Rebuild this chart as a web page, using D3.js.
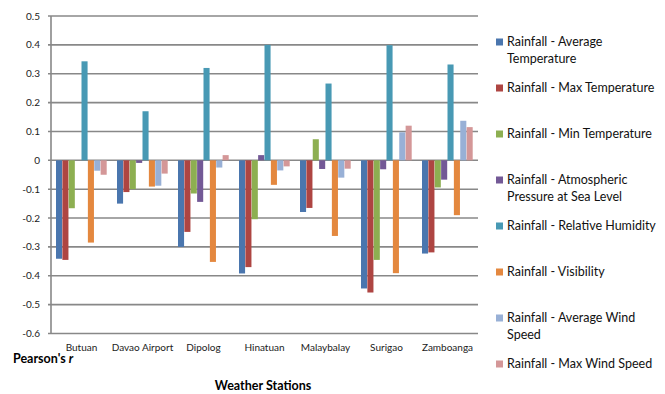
<!DOCTYPE html>
<html><head><meta charset="utf-8">
<script src="https://cdn.jsdelivr.net/npm/d3@7"></script>
<style>body{margin:0;background:#fff}svg{display:block;font-family:Lato,"Liberation Sans",sans-serif}</style>
</head><body><svg id="c" width="665" height="394"></svg>
<script>
const stations = ["Butuan","Davao Airport","Dipolog","Hinatuan","Malaybalay","Surigao","Zamboanga"];
const seriesNames = ["Rainfall - Average Temperature","Rainfall - Max Temperature","Rainfall - Min Temperature","Rainfall - Atmospheric Pressure at Sea Level","Rainfall - Relative Humidity","Rainfall - Visibility","Rainfall - Average Wind Speed","Rainfall - Max Wind Speed"];
const colors = ["#4A76AE","#AE4542","#8DAF51","#735996","#4899B4","#E4883F","#98B0D6","#D49798"];
const avgTemp  = [-0.341,-0.150,-0.300,-0.392,-0.179,-0.444,-0.323];
const maxTemp  = [-0.345,-0.110,-0.248,-0.370,-0.165,-0.458,-0.319];
const minTemp  = [-0.166,-0.100,-0.115,-0.204, 0.073,-0.345,-0.094];
const atmPress = [ 0.000,-0.009,-0.144, 0.018,-0.030,-0.031,-0.067];
const relHum   = [ 0.343, 0.170, 0.320, 0.400, 0.266, 0.399, 0.332];
const visib    = [-0.285,-0.091,-0.352,-0.085,-0.262,-0.391,-0.190];
const avgWind  = [-0.036,-0.088,-0.025,-0.035,-0.060, 0.097, 0.137];
const maxWind  = [-0.050,-0.046, 0.018,-0.021,-0.029, 0.120, 0.115];
const yTicks = [0.5,0.4,0.3,0.2,0.1,0,-0.1,-0.2,-0.3,-0.4,-0.5,-0.6];
const yLabels = ["0.5","0.4","0.3","0.2","0.1","0","-0.1","-0.2","-0.3","-0.4","-0.5","-0.6"];
const yTitle = "Pearson's ";
const yTitleItalic = "r";
const xTitle = "Weather Stations";

const allSeries = [avgTemp,maxTemp,minTemp,atmPress,relHum,visib,avgWind,maxWind];
const svg = d3.select("#c");
const L=51,R=478,T=16,B=333.5;
const y = d3.scaleLinear().domain([-0.6,0.5]).range([B,T]);
const x0 = d3.scaleBand().domain(stations).range([L,R]).padding(0);
const x1 = d3.scaleBand().domain(d3.range(seriesNames.length)).range([5,x0.bandwidth()-5]).padding(0);

// gridlines
svg.append("g").selectAll("line").data(yTicks).join("line")
  .attr("x1",L-3).attr("x2",R).attr("y1",d=>y(d)).attr("y2",d=>y(d))
  .attr("stroke","#888").attr("stroke-width",1.6);
svg.append("line").attr("x1",L).attr("x2",L).attr("y1",T).attr("y2",B)
  .attr("stroke","#888").attr("stroke-width",1.6);

// y labels
svg.append("g").selectAll("text").data(yTicks).join("text")
  .attr("x",40).attr("y",d=>y(d)).attr("dy","0.35em").attr("text-anchor","end")
  .attr("font-size",10).attr("fill","#222").text((d,i)=>yLabels[i]);

// bars
const g = svg.append("g");
stations.forEach((s,si)=>{
  allSeries.forEach((arr,k)=>{
    const v=arr[si];
    g.append("rect").attr("x",x0(s)+x1(k)).attr("width",x1.bandwidth()-0.3)
      .attr("y",y(Math.max(0,v))).attr("height",Math.abs(y(v)-y(0)))
      .attr("fill",colors[k]);
  });
});

// x labels
svg.append("g").selectAll("text").data(stations).join("text")
  .attr("x",d=>x0(d)+x0.bandwidth()/2).attr("y",347).attr("dy","0.35em")
  .attr("text-anchor","middle").attr("font-size",10).attr("fill","#222").text(d=>d);

// axis titles
const yt = svg.append("text").attr("x",13).attr("y",359).attr("dy","0.35em")
  .attr("font-size",12.5).attr("font-weight","bold").attr("fill","#000");
yt.append("tspan").text(yTitle);
yt.append("tspan").attr("font-style","italic").text(yTitleItalic);
svg.append("text").attr("x",263).attr("y",386).attr("dy","0.35em").attr("text-anchor","middle")
  .attr("font-size",12.5).attr("font-weight","bold").attr("fill","#000").text(xTitle);

// legend
const lg = svg.append("g");
seriesNames.forEach((name,i)=>{
  const cy = 42 + i*46.0;
  lg.append("rect").attr("x",496).attr("y",cy-3.5).attr("width",7).attr("height",7).attr("fill",colors[i]);
  const t = lg.append("text").attr("x",507).attr("y",cy).attr("dy","0.35em")
    .attr("font-size",12.5).attr("fill","#111");
  const words = name.split(" ");
  let line=[], tsp=t.append("tspan").attr("x",507);
  words.forEach(w=>{
    line.push(w); tsp.text(line.join(" "));
    if(tsp.node().getComputedTextLength()>152 && line.length>1){
      line.pop(); tsp.text(line.join(" "));
      line=[w];
      tsp=t.append("tspan").attr("x",507).attr("dy","1.3em").text(w);
    }
  });
});
</script></body></html>
